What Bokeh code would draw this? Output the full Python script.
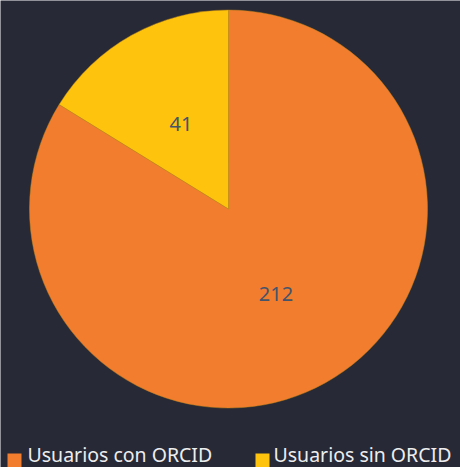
import numpy as np
from bokeh.plotting import figure
from bokeh.models import Range1d, ColumnDataSource
from bokeh.core.properties import value
from bokeh.embed import file_html
from bokeh.resources import INLINE

# Data
categories = ["Usuarios con ORCID", "Usuarios sin ORCID"]
counts = [212, 41]
colors = ["#F27D2E", "#FEC30C"]

W, H = 460, 467
BG = "#272937"

p = figure(width=W, height=H, output_backend="svg", toolbar_location=None,
           x_range=Range1d(0, W), y_range=Range1d(0, H), min_border=0)
p.axis.visible = False
p.grid.visible = False
p.outline_line_color = None
p.background_fill_color = BG
p.border_fill_color = BG

# pie geometry (Excel: start at top, clockwise, first series first)
cx, cy, r = 228, 258.5, 199
vals = np.array(counts, dtype=float)
frac = vals / vals.sum()
ang = frac * 2 * np.pi
cum = np.concatenate([[0], np.cumsum(ang)])
top = np.pi / 2
starts = top - cum[1:]
ends = top - cum[:-1]
mids = (starts + ends) / 2

src = ColumnDataSource(dict(start=starts, end=ends, color=colors, cat=categories))
p.wedge(x=cx, y=cy, radius=r, start_angle="start", end_angle="end",
        fill_color="color", line_color="#c08a1a", line_alpha=0.6, line_width=0.8,
        source=src)

# data labels
lx = cx + 0.49 * r * np.cos(mids)
ly = cy + 0.49 * r * np.sin(mids)
p.text(x=lx, y=ly, text=[str(c) for c in counts], text_align="center",
       text_baseline="middle", text_font=value("Noto Sans"), text_font_size="20px",
       text_color="#44546A")

# legend
sq_x = [14, 262]
txt_x = [27, 273]
p.rect(x=sq_x, y=[7, 7], width=14, height=14, fill_color=colors, line_color=None)
p.text(x=txt_x, y=[0, 0], text=categories, text_align="left", text_baseline="bottom",
       text_font=value("Noto Sans"), text_font_size="19.5px", text_color="#EDEDED")

html = file_html(p, INLINE)
html = html.replace("<body>", '<body style="margin:0;background:%s;overflow:hidden">' % BG, 1)
open("out.html", "w").write(html)
